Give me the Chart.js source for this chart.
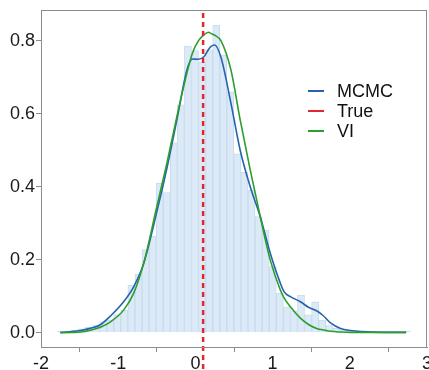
<!DOCTYPE html>
<html>
<head>
<meta charset="utf-8">
<script src="https://cdn.jsdelivr.net/npm/chart.js@4/dist/chart.umd.min.js"></script>
<style>
  html, body { margin: 0; padding: 0; background: #fff; }
  canvas { display: block; }
</style>
</head>
<body>
<canvas id="chartArea" width="429" height="370"></canvas>
<script>
// histogram of the posterior draws (density scale)
const binCenters = [
  -1.745, -1.653, -1.562, -1.470, -1.379, -1.287, -1.195, -1.104, -1.012, -0.921,
  -0.829, -0.738, -0.646, -0.554, -0.463, -0.371, -0.280, -0.188, -0.097, -0.005,
  0.086, 0.178, 0.270, 0.361, 0.453, 0.544, 0.636, 0.727, 0.819, 0.910,
  1.002, 1.094, 1.185, 1.277, 1.368, 1.460, 1.551, 1.643, 1.734, 1.826,
  1.917, 2.009, 2.101, 2.192, 2.284, 2.375, 2.467, 2.558, 2.650, 2.741
];
const histDensity = [
  0.004, 0.004, 0.007, 0.011, 0.015, 0.020, 0.030, 0.035, 0.050, 0.062,
  0.130, 0.160, 0.228, 0.265, 0.409, 0.384, 0.520, 0.624, 0.785, 0.773,
  0.742, 0.775, 0.843, 0.760, 0.660, 0.490, 0.440, 0.390, 0.318, 0.281,
  0.181, 0.109, 0.071, 0.060, 0.103, 0.049, 0.085, 0.035, 0.020, 0.012,
  0.008, 0.006, 0.004, 0.005, 0.003, 0.002, 0.002, 0.003, 0.001, 0.004
];

// density curves
const curveX = [
  -1.75, -1.60, -1.49, -1.36, -1.23, -1.10, -0.93, -0.80, -0.67, -0.50,
  -0.37, -0.24, -0.11, -0.04, 0.04, 0.11, 0.17, 0.20, 0.25, 0.33,
  0.46, 0.58, 0.71, 0.84, 0.97, 1.10, 1.15, 1.23, 1.36, 1.47,
  1.58, 1.65, 1.75, 1.88, 2.01, 2.14, 2.45, 2.73
];
const mcmcDensity = [
  0.001, 0.003, 0.006, 0.012, 0.022, 0.046, 0.085, 0.126, 0.190, 0.331,
  0.450, 0.583, 0.720, 0.750, 0.749, 0.756, 0.776, 0.784, 0.788, 0.755,
  0.629, 0.500, 0.400, 0.318, 0.218, 0.136, 0.112, 0.099, 0.085, 0.069,
  0.059, 0.048, 0.027, 0.012, 0.006, 0.003, 0.001, 0.001
];
const viDensity = [
  0.000, 0.001, 0.002, 0.007, 0.015, 0.030, 0.062, 0.108, 0.190, 0.345,
  0.464, 0.592, 0.711, 0.765, 0.800, 0.816, 0.823, 0.820, 0.815, 0.800,
  0.720, 0.583, 0.446, 0.318, 0.199, 0.117, 0.095, 0.071, 0.040, 0.022,
  0.011, 0.008, 0.004, 0.002, 0.001, 0.001, 0.001, 0.001
];

const trueValue = 0.1;

const xTicks = [-2, -1, 0, 1, 2, 3];
const yTicks = [0.0, 0.2, 0.4, 0.6, 0.8];

const legendLabels = ['MCMC', 'True', 'VI'];

const FONT = '"Liberation Sans", Arial, sans-serif';
const blue = '#2563ad';
const red = '#e3262e';
const green = '#2b9e2b';
const axisGrey = '#8c8c8c';

// panel border + legend inside the plot
const panelExtras = {
    id: 'panelExtras',
    afterDraw(chart) {
        const c = chart.ctx;
        const a = chart.chartArea;
        c.save();
        c.strokeStyle = axisGrey;
        c.lineWidth = 1;
        c.strokeRect(a.left + 0.5, a.top + 0.5, a.right - a.left - 1, a.bottom - a.top);

        const colors = [blue, red, green];
        c.font = '18px ' + FONT;
        c.textBaseline = 'middle';
        c.fillStyle = '#111';
        legendLabels.forEach((lab, i) => {
            const y = 91 + i * 20;
            c.strokeStyle = colors[i];
            c.lineWidth = 2;
            c.beginPath();
            c.moveTo(308, y);
            c.lineTo(324, y);
            c.stroke();
            c.fillText(lab, 337, y + 1);
        });
        c.restore();
    }
};

const ctx = document.getElementById('chartArea');
new Chart(ctx, {
    type: 'bar',
    data: {
        datasets: [
            {
                type: 'line',
                label: 'True',
                data: [{ x: trueValue, y: 0.876 }, { x: trueValue, y: -0.11 }],
                borderColor: red,
                borderWidth: 2.5,
                borderDash: [5, 4],
                pointRadius: 0,
                clip: false,
                order: 0
            },
            {
                type: 'line',
                label: 'MCMC',
                data: curveX.map((x, i) => ({ x: x, y: mcmcDensity[i] })),
                borderColor: blue,
                borderWidth: 1.6,
                pointRadius: 0,
                cubicInterpolationMode: 'monotone',
                order: 2
            },
            {
                type: 'line',
                label: 'VI',
                data: curveX.map((x, i) => ({ x: x, y: viDensity[i] })),
                borderColor: green,
                borderWidth: 1.6,
                pointRadius: 0,
                cubicInterpolationMode: 'monotone',
                order: 1
            },
            {
                type: 'bar',
                label: 'hist',
                data: binCenters.map((x, i) => ({ x: x, y: histDensity[i] })),
                backgroundColor: '#dce9f6',
                borderColor: '#c7dcf0',
                borderWidth: 1,
                barPercentage: 1,
                categoryPercentage: 1,
                order: 10
            }
        ]
    },
    options: {
        responsive: false,
        animation: false,
        layout: { padding: { top: 10, right: 2, left: 0, bottom: 0 } },
        plugins: {
            legend: { display: false },
            tooltip: { enabled: false }
        },
        scales: {
            x: {
                type: 'linear',
                min: -2,
                max: 3,
                offset: false,
                afterBuildTicks: s => { s.ticks = xTicks.map(v => ({ value: v })); },
                afterFit: s => { s.height = 23; s.paddingLeft = 0; s.paddingRight = 0; },
                ticks: {
                    font: { size: 18, family: FONT },
                    color: '#1a1a1a',
                    padding: 1,
                    maxRotation: 0,
                    autoSkip: false,
                    callback: v => String(v)
                },
                grid: { drawOnChartArea: false, tickLength: 5, color: axisGrey },
                border: { color: axisGrey }
            },
            y: {
                min: -0.039,
                max: 0.884,
                afterBuildTicks: s => { s.ticks = yTicks.map(v => ({ value: v })); },
                afterFit: s => { s.width = 41; s.paddingTop = 0; s.paddingBottom = 0; },
                ticks: {
                    font: { size: 18, family: FONT },
                    color: '#1a1a1a',
                    padding: 1,
                    callback: v => v.toFixed(1)
                },
                grid: { drawOnChartArea: false, tickLength: 5, color: axisGrey },
                border: { color: axisGrey }
            }
        }
    },
    plugins: [panelExtras]
});
</script>
</body>
</html>
